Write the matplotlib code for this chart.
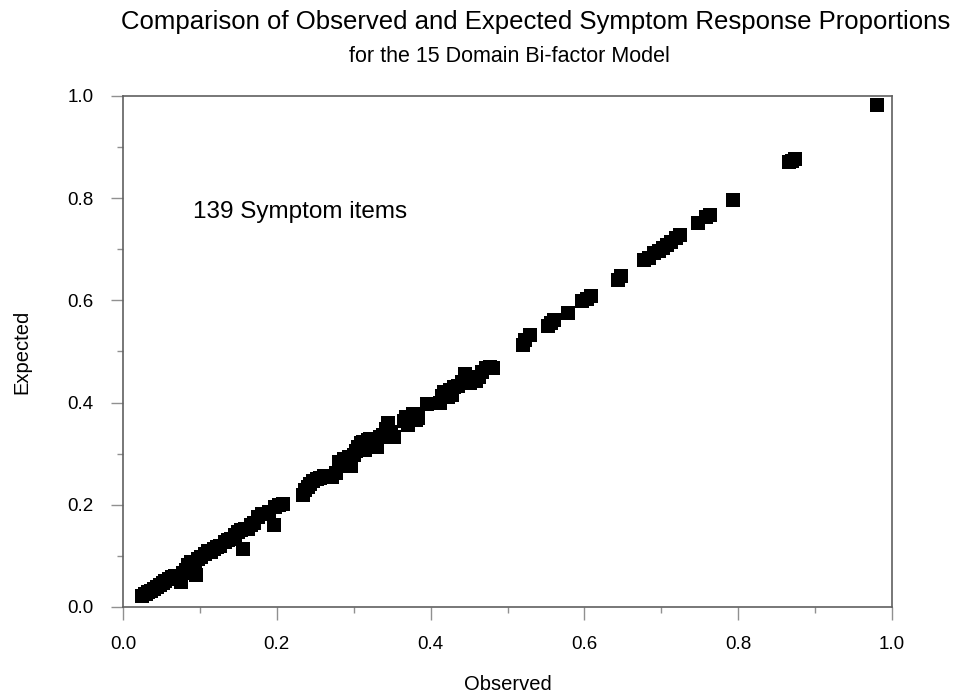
import matplotlib
matplotlib.use("Agg")
import matplotlib.pyplot as plt
from matplotlib.ticker import MultipleLocator

plt.rcParams['font.family'] = ['Liberation Sans', 'DejaVu Sans']

# observed vs expected response proportions, one pair per symptom item
observed = [
    0.025, 0.028, 0.030, 0.032, 0.036, 0.040, 0.044, 0.048, 0.052, 0.055,
    0.060, 0.064, 0.068, 0.072, 0.075, 0.078, 0.082, 0.085, 0.088, 0.090,
    0.093, 0.095, 0.098, 0.102, 0.106, 0.110, 0.114, 0.118, 0.122, 0.126,
    0.132, 0.137, 0.141, 0.145, 0.149, 0.153, 0.156, 0.158, 0.162, 0.166,
    0.170, 0.176, 0.181, 0.186, 0.190, 0.196, 0.198, 0.203, 0.208,
    0.234, 0.237, 0.240, 0.243, 0.247, 0.252, 0.256, 0.261, 0.266, 0.272,
    0.277, 0.281, 0.284, 0.287, 0.291, 0.294, 0.297, 0.300, 0.303, 0.306,
    0.309, 0.312, 0.315, 0.318, 0.321, 0.324, 0.327, 0.330, 0.334, 0.338,
    0.342, 0.345, 0.348, 0.352, 0.365, 0.368, 0.371, 0.374, 0.377, 0.381,
    0.384, 0.395, 0.412, 0.415, 0.418, 0.422, 0.425, 0.428, 0.431, 0.435,
    0.441, 0.445, 0.448, 0.451, 0.455, 0.459, 0.463, 0.467, 0.472, 0.477,
    0.481,
    0.520, 0.523, 0.529, 0.553, 0.556, 0.560, 0.579, 0.597, 0.603, 0.609,
    0.644, 0.647, 0.677, 0.684, 0.691, 0.697, 0.702, 0.707, 0.713, 0.719,
    0.724, 0.748, 0.758, 0.763, 0.793,
    0.866, 0.870, 0.874, 0.980,
]
expected = [
    0.022, 0.025, 0.026, 0.030, 0.031, 0.036, 0.040, 0.043, 0.047, 0.050,
    0.054, 0.058, 0.061, 0.059, 0.048, 0.066, 0.072, 0.083, 0.088, 0.080,
    0.089, 0.063, 0.093, 0.097, 0.104, 0.110, 0.108, 0.114, 0.117, 0.120,
    0.127, 0.132, 0.133, 0.140, 0.146, 0.150, 0.113, 0.153, 0.152, 0.160,
    0.165, 0.176, 0.182, 0.181, 0.186, 0.160, 0.196, 0.199, 0.201,
    0.219, 0.228, 0.235, 0.241, 0.246, 0.251, 0.253, 0.256, 0.257, 0.255,
    0.262, 0.283, 0.276, 0.289, 0.280, 0.294, 0.276, 0.298, 0.306, 0.314,
    0.320, 0.322, 0.308, 0.326, 0.329, 0.318, 0.324, 0.314, 0.333, 0.336,
    0.349, 0.360, 0.342, 0.332, 0.364, 0.372, 0.357, 0.367, 0.378, 0.365,
    0.370, 0.398, 0.400, 0.412, 0.420, 0.410, 0.425, 0.415, 0.430, 0.433,
    0.440, 0.456, 0.446, 0.438, 0.449, 0.443, 0.450, 0.459, 0.467, 0.470,
    0.468,
    0.513, 0.522, 0.532, 0.550, 0.556, 0.562, 0.576, 0.598, 0.603, 0.609,
    0.640, 0.647, 0.679, 0.683, 0.693, 0.697, 0.702, 0.708, 0.715, 0.722,
    0.727, 0.752, 0.763, 0.768, 0.797,
    0.870, 0.873, 0.877, 0.983,
]
n_items = len(observed)

fig = plt.figure(figsize=(9.58, 6.96), dpi=100)
ax = fig.add_axes([0.1284, 0.1279, 0.8027, 0.7342])

ax.scatter(observed, expected, marker='s', s=90, color='black', linewidths=0, zorder=3)

ax.set_xlim(0, 1)
ax.set_ylim(0, 1)
ax.xaxis.set_major_locator(MultipleLocator(0.2))
ax.xaxis.set_minor_locator(MultipleLocator(0.1))
ax.yaxis.set_major_locator(MultipleLocator(0.2))
ax.yaxis.set_minor_locator(MultipleLocator(0.1))
ax.xaxis.set_major_formatter(plt.FormatStrFormatter('%.1f'))
ax.yaxis.set_major_formatter(plt.FormatStrFormatter('%.1f'))

for side in ax.spines:
    ax.spines[side].set_color('#606060')
    ax.spines[side].set_linewidth(1.2)
ax.tick_params(which='major', direction='out', length=9, width=1, color='#909090',
               labelsize=13.5, pad=12)
ax.tick_params(which='minor', direction='out', length=4.5, width=1, color='#909090')

ax.set_xlabel('Observed', fontsize=14.5, labelpad=16)
ax.set_ylabel('Expected', fontsize=14.5, labelpad=26)

ax.text(0.091, 0.773, f'{n_items} Symptom items', fontsize=17.5, va='center', ha='left')

fig.text(536 / 958, 1 - 22 / 696, 'Comparison of Observed and Expected Symptom Response Proportions',
         fontsize=18.5, ha='center', va='center')
fig.text(509 / 958, 1 - 57 / 696, 'for the 15 Domain Bi-factor Model',
         fontsize=15.5, ha='center', va='center')

fig.savefig('out.png', dpi=100)
